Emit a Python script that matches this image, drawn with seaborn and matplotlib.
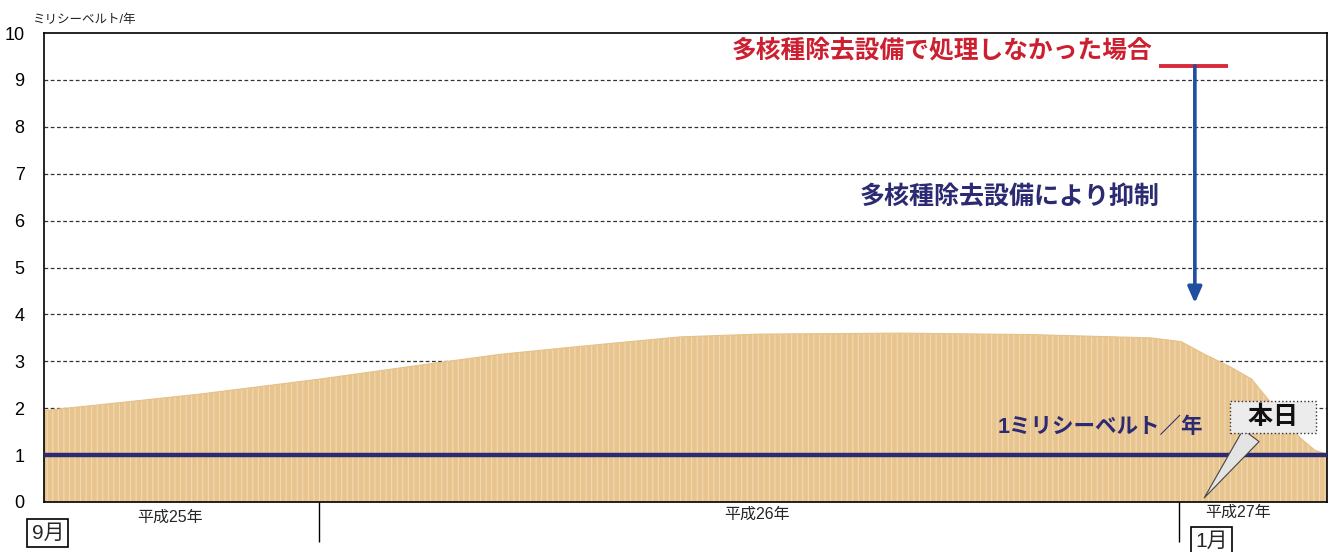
import matplotlib
matplotlib.use("Agg")
import matplotlib.pyplot as plt
import seaborn as sns
import pandas as pd

# ---- data ----
dates = ["2013-09-06", "2013-09-29", "2013-11-11", "2014-01-01", "2014-02-13",
         "2014-03-19", "2014-04-22", "2014-06-03", "2014-07-07", "2014-09-05",
         "2014-10-30", "2014-12-20", "2015-01-02", "2015-01-12", "2015-01-23",
         "2015-02-01", "2015-02-07", "2015-02-15", "2015-02-22", "2015-02-28",
         "2015-03-05"]
dose = [1.95, 2.07, 2.30, 2.62, 2.92,
        3.15, 3.32, 3.52, 3.58, 3.60,
        3.57, 3.50, 3.42, 3.15, 2.88,
        2.62, 2.25, 1.75, 1.35, 1.10,
        1.02]
limit_value = 1.0
untreated_value = 9.3
y_ticks = list(range(0, 11))
year_labels = ["平成25年", "平成26年", "平成27年"]
month_labels = ["9月", "1月"]
year_starts = ["2014-01-01", "2015-01-01"]
x_start, x_end = "2013-09-06", "2015-03-05"

df = pd.DataFrame({"date": pd.to_datetime(dates), "dose": dose})

sns.set_theme(style="white")
plt.rcParams["font.family"] = ["Liberation Sans", "Noto Sans CJK JP", "DejaVu Sans"]
plt.rcParams["hatch.linewidth"] = 0.7

fig = plt.figure(figsize=(13.33, 5.52), dpi=100)
ax = fig.add_axes([44 / 1333, 1 - 502 / 552, 1283 / 1333, 469 / 552])

# grid
for v in y_ticks[1:-1]:
    ax.axhline(v, color="#333333", lw=0.9, ls=(0, (3, 2)), zorder=0)

# area
ax.fill_between(df["date"], 0, df["dose"], facecolor="#e8c58e", edgecolor="#f2dcba",
                hatch="|||", lw=0, zorder=1)
sns.lineplot(data=df, x="date", y="dose", ax=ax, color="#e6c189", lw=0.8, zorder=2)

# 1 mSv line
ax.axhline(limit_value, color="#2b2a72", lw=3.2, zorder=3)

ax.set_xlim(pd.Timestamp(x_start), pd.Timestamp(x_end))
ax.set_ylim(0, 10)
ax.set_yticks(y_ticks)
ax.set_yticklabels([str(v) for v in y_ticks], fontsize=13, color="black")
ax.tick_params(axis="y", length=0, pad=14)
ax.set_xticks(pd.to_datetime(year_starts))
ax.set_xticklabels(["", ""])
ax.tick_params(axis="x", direction="out", length=29, width=1.0, color="black", bottom=True)
ax.set_xlabel("")
ax.set_ylabel("")
for s in ax.spines.values():
    s.set_color("black")
    s.set_linewidth(1.2)

# unit label
fig.text(32 / 1333, 1 - 20 / 552, "ミリシーベルト/年", fontsize=9, ha="left", va="center",
         color="#222222")

# year labels
T = ax.transAxes
ax.text(0.098, -0.032, year_labels[0], transform=T, ha="center", va="center", fontsize=11.5)
ax.text(0.556, -0.026, year_labels[1], transform=T, ha="center", va="center", fontsize=11.5)
ax.text(0.931, -0.021, year_labels[2], transform=T, ha="center", va="center", fontsize=11.5)

box = dict(boxstyle="square,pad=0.2", fc="white", ec="black", lw=1.2)
ax.text(0.003, -0.066, month_labels[0], transform=T, ha="center", va="center", fontsize=15,
        bbox=box, clip_on=False)
ax.text(0.910, -0.083, month_labels[1], transform=T, ha="center", va="center", fontsize=15,
        bbox=box, clip_on=False)

# red annotation
ax.text(0.536, 0.963, "多核種除去設備で処理しなかった場合", transform=T, ha="left", va="center",
        fontsize=17.8, color="#cc2030", fontweight="bold")
ax.plot([0.869, 0.923], [untreated_value / 10, untreated_value / 10], transform=T,
        color="#d82a3a", lw=2.8, solid_capstyle="butt")
ax.annotate("", xy=(0.897, 0.424), xytext=(0.897, untreated_value / 10), xycoords=T,
            textcoords=T,
            arrowprops=dict(arrowstyle="-|>,head_length=0.8,head_width=0.35", color="#1f4f9e",
                            lw=2.6, shrinkA=0, shrinkB=0))
ax.text(0.636, 0.650, "多核種除去設備により抑制", transform=T, ha="left", va="center",
        fontsize=18, color="#2b2a72", fontweight="bold")

# 1 mSv label
ax.text(0.743, 0.158, "1ミリシーベルト／年", transform=T, ha="left", va="center",
        fontsize=15.5, color="#2b2a72", fontweight="bold")

# 本日 callout
ax.annotate("  本日  ", xy=(0.903, 0.004), xytext=(0.958, 0.181), xycoords=T, textcoords=T,
            ha="center", va="center", fontsize=18, fontweight="bold", color="#111111",
            bbox=dict(boxstyle="square,pad=0.15", fc="#ececec", ec="#333333", lw=1.0, ls=":"),
            arrowprops=dict(arrowstyle="wedge,tail_width=0.8,shrink_factor=0.5",
                            fc="#e4e4e4", ec="#444444", lw=0.8, relpos=(0.28, 0.0)),
            zorder=5)

fig.savefig("out.png", dpi=100)
